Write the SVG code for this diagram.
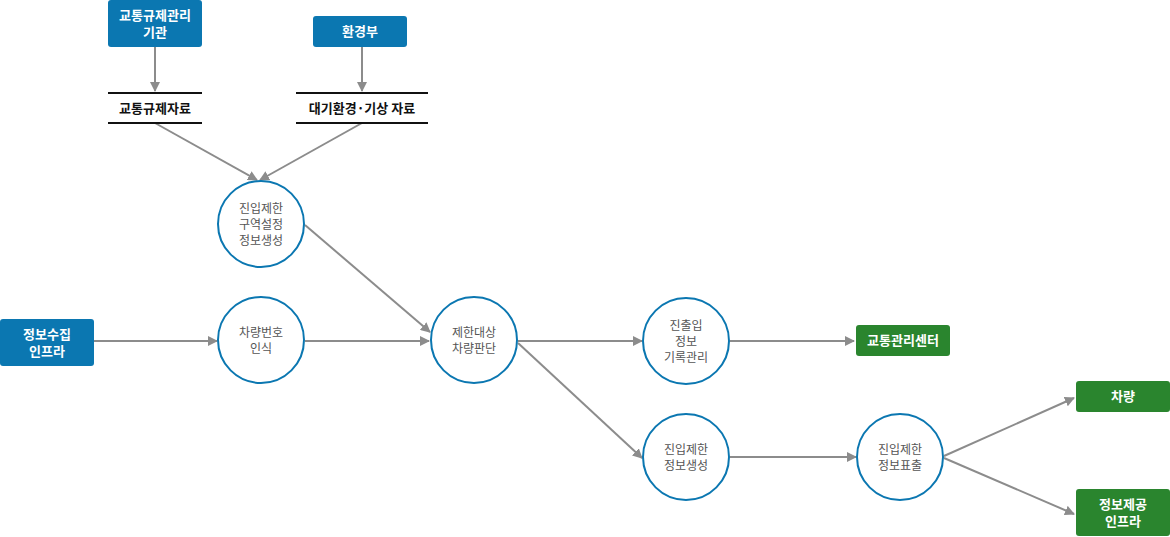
<svg xmlns="http://www.w3.org/2000/svg" width="1170" height="537" viewBox="0 0 1170 537">
<style>
text{font-family:"Noto Sans CJK KR","Noto Sans",sans-serif;text-anchor:middle}
.b{fill:#0b77b1}.g{fill:#2a852e}
.bt{fill:#fff;font-size:13px;font-weight:bold}
.c{fill:#fff;stroke:#0b77b1;stroke-width:2}
.ct{fill:#555;font-size:12px}
.ds{stroke:#111;stroke-width:2}
.dt{fill:#111;font-size:13px;font-weight:bold}
.e{stroke:#8c8c8c;stroke-width:2;fill:none;marker-end:url(#a)}
</style>
<defs><marker id="a" viewBox="0 0 10 10" refX="9" refY="5" markerWidth="5" markerHeight="5" orient="auto" markerUnits="strokeWidth"><path d="M0,0L10,5L0,10z" fill="#8c8c8c"/></marker></defs>
<g id="connectors">
<path class="e" d="M155,47V91"/>
<path class="e" d="M362,47V91"/>
<path class="e" d="M155,123L257,180"/>
<path class="e" d="M362,123L260,180"/>
<path class="e" d="M305,225L430,332"/>
<path class="e" d="M94,341H217"/>
<path class="e" d="M305,341H429"/>
<path class="e" d="M518,341H642"/>
<path class="e" d="M518,343L642,458"/>
<path class="e" d="M730,341H854"/>
<path class="e" d="M730,457H856"/>
<path class="e" d="M944,456L1074,398"/>
<path class="e" d="M944,458L1074,514"/>
</g>
<g id="n1"><rect class="b" x="108" y="0" width="94" height="47" rx="3"/><text class="bt" x="155" y="20">교통규제관리</text><text class="bt" x="155" y="37">기관</text></g>
<g id="n2"><rect class="b" x="313" y="16" width="94" height="31" rx="3"/><text class="bt" x="360" y="36">환경부</text></g>
<g id="d1"><path class="ds" d="M108,93H202M108,123H202"/><text class="dt" x="155" y="113">교통규제자료</text></g>
<g id="d2"><path class="ds" d="M296,93H428M296,123H428"/><text class="dt" x="362" y="113">대기환경·기상 자료</text></g>
<g id="p1"><circle class="c" cx="261" cy="224" r="43"/><text class="ct" x="261" y="213">진입제한</text><text class="ct" x="261" y="229">구역설정</text><text class="ct" x="261" y="245">정보생성</text></g>
<g id="n3"><rect class="b" x="0" y="319" width="94" height="47" rx="3"/><text class="bt" x="47" y="339">정보수집</text><text class="bt" x="47" y="356">인프라</text></g>
<g id="p2"><circle class="c" cx="261" cy="340" r="43"/><text class="ct" x="261" y="337">차량번호</text><text class="ct" x="261" y="353">인식</text></g>
<g id="p3"><circle class="c" cx="474" cy="340" r="43"/><text class="ct" x="474" y="337">제한대상</text><text class="ct" x="474" y="353">차량판단</text></g>
<g id="p4"><circle class="c" cx="686" cy="341" r="43"/><text class="ct" x="686" y="330">진출입</text><text class="ct" x="686" y="346">정보</text><text class="ct" x="686" y="362">기록관리</text></g>
<g id="n4"><rect class="g" x="856" y="325" width="94" height="31" rx="3"/><text class="bt" x="903" y="345">교통관리센터</text></g>
<g id="p5"><circle class="c" cx="686" cy="457" r="43"/><text class="ct" x="686" y="454">진입제한</text><text class="ct" x="686" y="470">정보생성</text></g>
<g id="p6"><circle class="c" cx="900" cy="457" r="43"/><text class="ct" x="900" y="454">진입제한</text><text class="ct" x="900" y="470">정보표출</text></g>
<g id="n5"><rect class="g" x="1076" y="381" width="94" height="31" rx="3"/><text class="bt" x="1123" y="401">차량</text></g>
<g id="n6"><rect class="g" x="1076" y="489" width="94" height="47" rx="3"/><text class="bt" x="1123" y="509">정보제공</text><text class="bt" x="1123" y="526">인프라</text></g>
</svg>
